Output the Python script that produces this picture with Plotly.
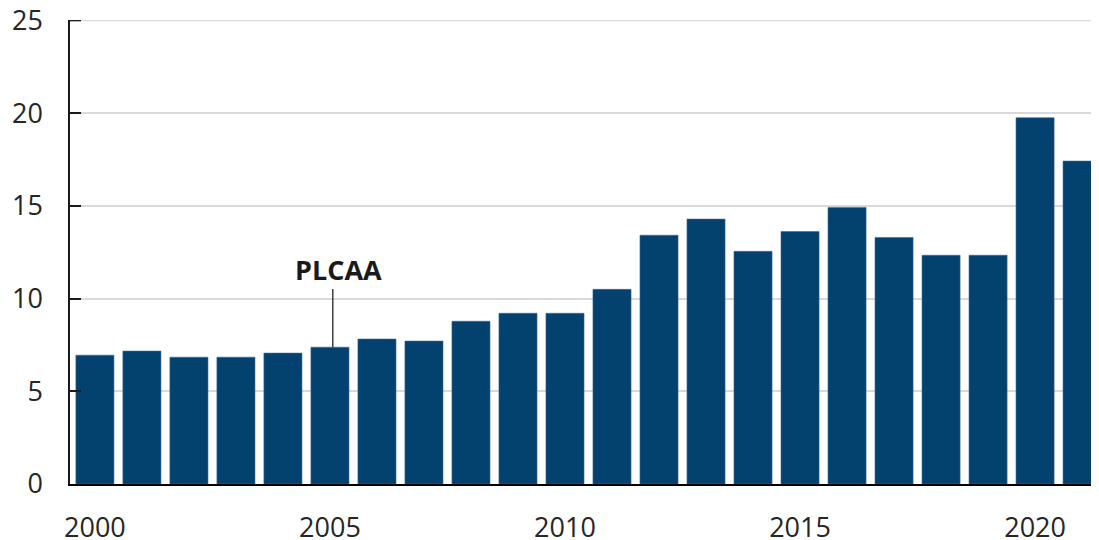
import plotly.graph_objects as go

years = list(range(2000, 2022))
values = [6.95, 7.17, 6.84, 6.84, 7.06, 7.38, 7.82, 7.71, 8.78, 9.21, 9.21, 10.5,
          13.42, 14.29, 12.55, 13.62, 14.92, 13.3, 12.34, 12.34, 19.76, 17.42]
x_ticks = [2000, 2005, 2010, 2015, 2020]
y_ticks = [0, 5, 10, 15, 20, 25]
y_max = 25
note_year = 2005
note_text = "PLCAA"

FONT = "Open Sans"
BAR = "#03416f"

fig = go.Figure()
fig.add_trace(go.Bar(x=years, y=values, marker=dict(color=BAR, line=dict(color="#3d6a92", width=0.6)),
                     hoverinfo="x+y"))

note_val = values[years.index(note_year)]
fig.add_shape(type="line", xref="x", yref="y", x0=note_year + 0.06, x1=note_year + 0.06,
              y0=note_val, y1=10.52, line=dict(color="#404040", width=1.5))
fig.add_annotation(x=note_year, y=11.59, xref="x", yref="y", text="<b>%s</b>" % note_text,
                   showarrow=False, xshift=9, font=dict(family=FONT, size=27, color="#1a1a1a"))

# top gridline and tick at the range end (plotly skips them at the edge)
fig.add_shape(type="line", xref="paper", yref="y", x0=0, x1=1, y0=y_max, y1=y_max,
              line=dict(color="#d9d9d9", width=1.5), layer="below")
fig.add_shape(type="line", xref="paper", yref="y", x0=0, x1=0.0107, y0=y_max, y1=y_max,
              line=dict(color="#1a1a1a", width=1.5))

# page body has an 8px default margin, so the figure is sized/offset to compensate
fig.update_layout(
    width=1091, height=532,
    margin=dict(l=62, r=0, t=12, b=56),
    paper_bgcolor="white", plot_bgcolor="white",
    bargap=0.19, showlegend=False,
    font=dict(family=FONT, size=27, color="#262626"),
)
fig.update_xaxes(range=[1999.47, 2021.36], tickvals=x_ticks, ticktext=[str(v) for v in x_ticks],
                 showline=True, linecolor="#000000", linewidth=1.5, showgrid=False, ticks="",
                 ticklabelstandoff=19, zeroline=False, automargin=False, ticklabeloverflow="allow")
fig.update_yaxes(range=[0, y_max + 0.03], tickvals=y_ticks, ticktext=[str(v) for v in y_ticks],
                 showline=True, linecolor="#1a1a1a", linewidth=1.5, showgrid=True,
                 gridcolor="#d9d9d9", gridwidth=1.5, ticks="inside", ticklen=11, tickwidth=1.5,
                 tickcolor="#1a1a1a", ticklabelstandoff=20, zeroline=False, automargin=False,
                 ticklabeloverflow="allow")

fig.write_html("out.html")
